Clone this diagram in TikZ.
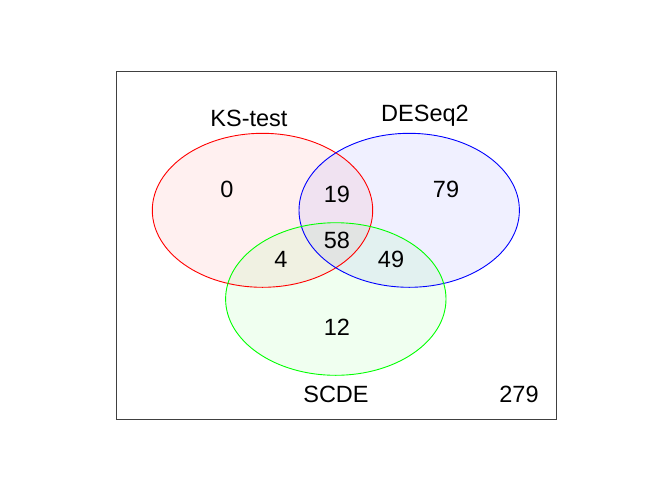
\documentclass[tikz,border=0pt]{standalone}
\usepackage{fontspec}
\setmainfont{Liberation Sans}
\begin{document}
\begin{tikzpicture}[x=1pt, y=-1pt, font=\fontsize{23.5}{28}\selectfont]
  \useasboundingbox (0,0) rectangle (672,480);
  \draw[black!75, line width=0.9pt] (116,71) rectangle (556,419);
  \foreach \c/\x/\y/\ry in {red/262.5/210.3/77, blue/409.2/210.3/77, green/335.8/299/76.3} {
    \fill[fill=\c, fill opacity=0.06] (\x,\y) ellipse [x radius=110.2, y radius=\ry];
  }
  \foreach \c/\x/\y/\ry in {red/262.5/210.3/77, blue/409.2/210.3/77, green/335.8/299/76.3} {
    \draw[\c, line width=0.9pt] (\x,\y) ellipse [x radius=110.2, y radius=\ry];
  }
  % set names
  \node (ks) at (249,118) {KS-test};
  \node (deseq) at (425,116) {DESeq2};
  \node (scde) at (336,394) {SCDE};
  \node (rest) at (519,394) {279};
  % region counts
  \foreach \n/\x/\y/\v in {ksonly/227/189/0, ksde/337/194/19, deonly/446/189/79, all/337/240/58, ksscde/281/259/4, descde/391/259/49, scdeonly/337/327/12} {
    \node (\n) at (\x,\y) {\v};
  }
\end{tikzpicture}
\end{document}
